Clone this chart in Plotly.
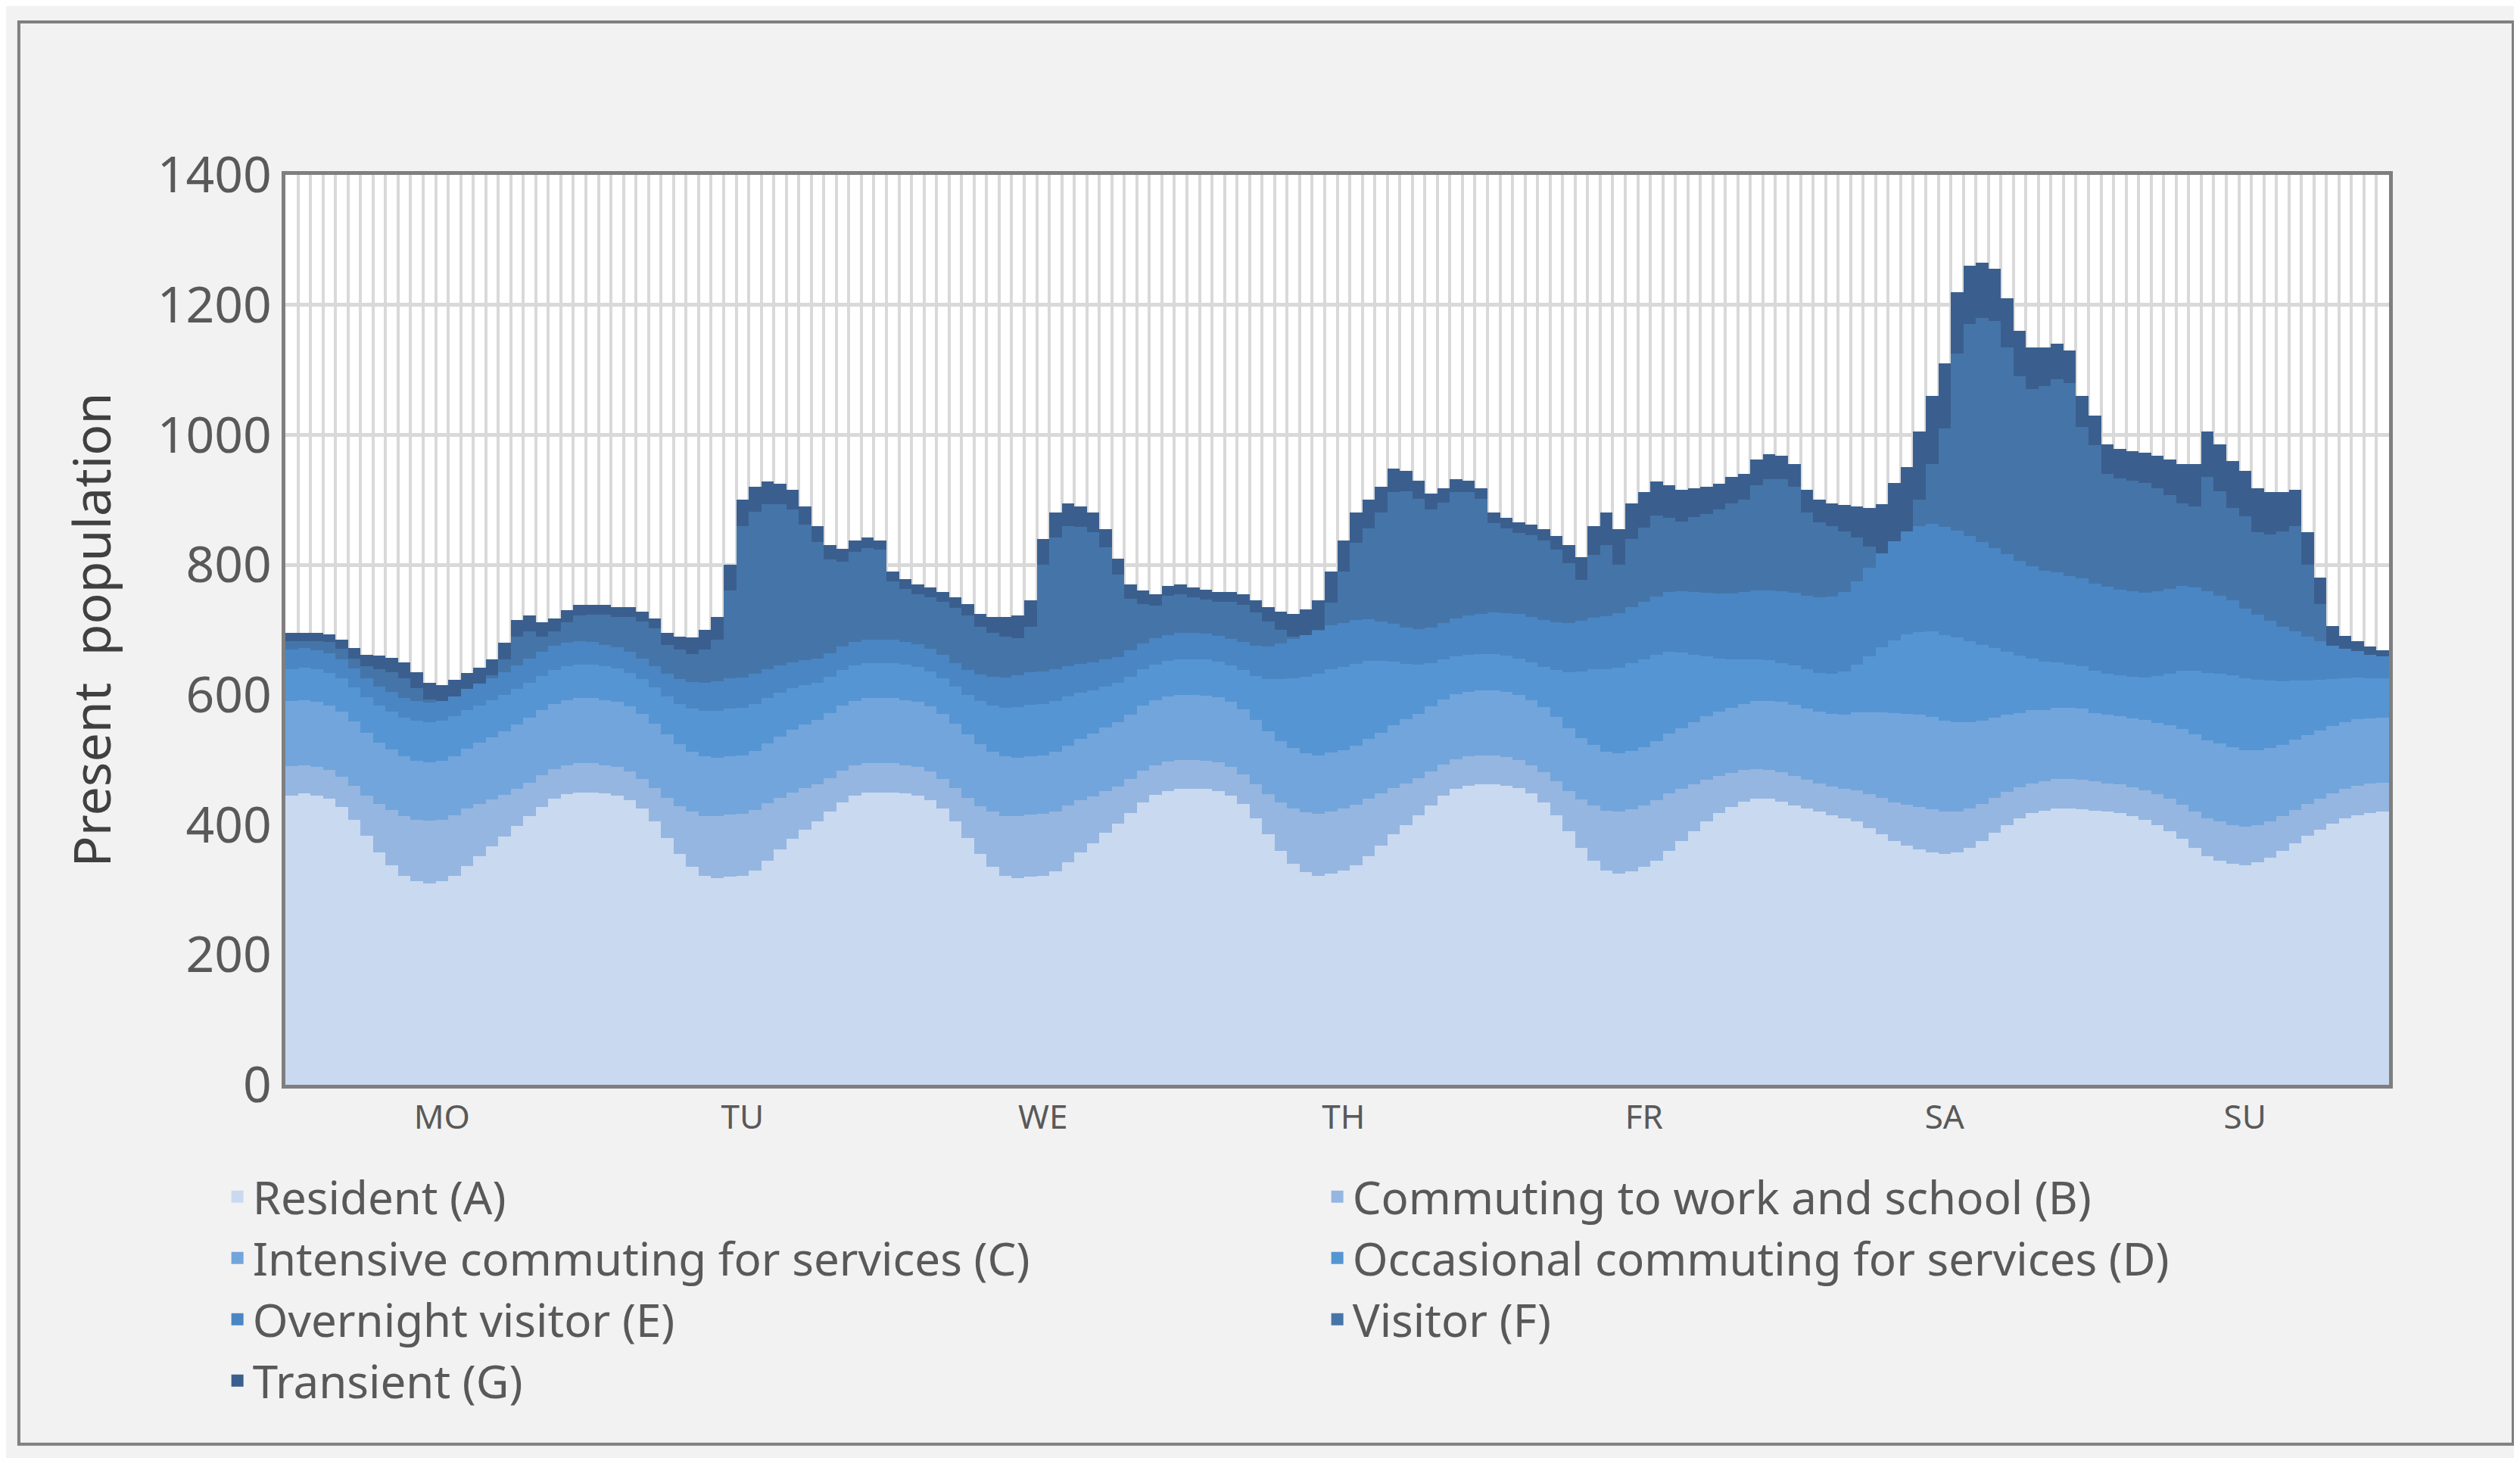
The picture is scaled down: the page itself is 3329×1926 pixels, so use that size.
import plotly.graph_objects as go

hours = list(range(168))
day_labels = ["MO", "TU", "WE", "TH", "FR", "SA", "SU"]
day_ticks = [12, 36, 60, 84, 108, 132, 156]

resident = [
    445,448,445,440,428,408,383,358,338,322,313,310,313,322,337,352,367,382,398,413,428,440,447,450,
    450,448,445,438,425,405,380,355,335,322,318,320,322,330,345,362,378,392,405,420,435,445,450,450,
    450,448,445,438,425,405,380,355,335,322,318,320,322,328,342,358,372,388,402,418,435,446,452,455,
    455,455,452,445,432,410,385,360,340,327,322,325,330,338,352,368,385,400,415,430,445,455,460,462,
    462,460,456,448,435,415,390,365,345,330,325,328,335,345,360,375,390,405,418,428,436,440,440,436,
    430,425,420,415,410,405,395,385,375,368,362,358,355,358,365,375,388,400,410,418,422,425,425,424,
    422,420,418,414,408,400,390,378,365,352,345,340,338,342,350,360,372,383,393,402,410,415,418,420]

commuting_work = (
    [45,44,44,44,46,52,62,74,85,92,95,96,95,93,88,80,72,64,57,52,48,46,45,45] +
    [45,44,44,44,46,52,62,74,85,92,95,96,95,93,88,80,72,64,57,52,48,46,45,45] +
    [45,44,44,44,46,52,62,74,85,92,95,96,95,93,88,80,72,64,57,52,48,46,45,45] +
    [45,44,44,44,46,52,62,74,85,92,95,96,95,93,88,80,72,64,57,52,48,46,45,45] +
    [45,44,44,44,46,52,62,74,85,92,95,96,95,93,88,80,72,64,57,52,48,46,45,45] +
    [45,44,44,44,45,48,52,56,60,63,65,66,65,63,60,57,54,51,48,46,45,45,45,45] +
    [45,44,44,44,45,47,50,53,56,58,60,60,59,57,55,53,51,49,47,46,45,45,45,45])

intensive = (
    [100,100,100,100,100,99,97,95,93,91,90,90,90,91,92,94,96,98,99,100,100,100,100,100] +
    [100,100,100,100,100,99,97,95,93,91,90,90,90,91,92,94,96,98,99,100,100,100,100,100] +
    [100,100,100,100,100,99,97,95,93,91,90,90,90,91,92,94,96,98,99,100,100,100,100,100] +
    [100,100,100,100,100,99,97,95,93,91,90,90,90,91,92,94,96,98,99,100,100,100,100,100] +
    [100,100,100,100,100,99,97,95,93,91,90,90,90,91,92,94,96,98,99,100,102,104,106,108] +
    [110,110,110,112,115,120,126,132,137,140,142,142,140,137,133,128,123,118,114,112,110,110,110,110] +
    [105,105,105,106,108,110,113,116,118,120,120,120,118,116,113,110,108,106,105,104,103,102,101,100])

occasional = [
    50,50,50,50,51,52,54,56,58,60,62,62,62,61,60,58,57,56,55,54,53,52,52,52,
    52,52,52,52,53,55,58,62,66,70,72,73,73,72,70,67,64,61,58,56,55,54,54,54,
    54,54,54,54,55,57,61,66,71,75,78,79,79,78,75,71,67,63,60,58,56,55,55,55,
    55,55,55,56,60,68,80,95,108,118,125,128,128,126,120,110,98,86,75,67,61,58,57,56,
    56,56,56,58,62,72,86,102,116,126,132,135,135,132,126,116,104,92,82,74,68,64,62,60,
    60,60,60,62,66,74,86,100,112,122,128,132,132,130,125,117,107,97,88,80,74,70,67,65,
    65,64,63,64,66,72,80,90,98,104,108,110,110,108,104,98,91,84,78,72,68,65,62,60]

overnight = [
    30,30,30,30,30,30,30,30,30,30,30,30,30,31,32,33,34,35,36,37,37,37,36,35,
    34,33,32,32,32,33,35,38,41,44,46,47,47,46,44,42,40,38,37,36,36,36,36,36,
    36,35,35,35,35,36,38,41,44,47,49,50,50,49,47,45,43,41,40,40,40,40,40,40,
    40,40,40,41,43,46,50,55,60,64,67,68,68,67,64,61,58,56,55,55,56,58,60,62,
    64,66,68,70,72,74,76,78,80,82,84,86,88,90,92,94,96,98,100,102,104,106,108,110,
    112,114,116,118,122,128,136,145,152,158,162,165,166,165,162,158,154,150,146,142,140,138,136,135,
    134,133,132,131,130,130,130,130,128,125,120,115,108,100,92,84,76,68,60,52,45,40,36,34]

transient = [
    12,12,12,12,14,16,18,20,22,24,25,25,25,25,25,25,25,25,25,24,22,20,18,16,
    15,15,15,15,15,16,18,20,25,30,35,40,40,38,35,32,30,28,25,22,20,18,16,15,
    15,15,15,15,15,16,18,20,25,30,35,40,40,38,35,32,30,28,25,22,20,18,16,15,
    15,15,15,15,16,18,22,28,35,40,45,48,48,46,44,40,36,32,28,25,22,20,18,16,
    16,16,16,16,18,22,28,35,45,50,55,55,55,52,50,48,45,42,40,40,40,40,38,36,
    35,35,35,36,40,48,60,75,90,100,105,105,100,95,90,85,80,75,70,65,60,55,50,48,
    46,45,45,45,46,50,55,60,65,70,72,72,70,68,65,60,55,50,40,30,20,15,12,10]

# total present population (top of stack)
total = [
    695,695,695,693,685,672,662,660,657,650,635,618,615,622,632,642,655,680,715,722,712,718,730,738,
    738,738,735,735,728,718,695,690,688,700,720,800,900,920,928,925,915,890,860,830,825,838,842,838,
    790,778,770,765,758,750,740,725,720,720,722,745,840,880,895,890,880,855,810,770,760,755,768,770,
    765,762,758,758,755,745,735,728,725,728,745,790,838,880,900,920,948,945,930,910,918,932,930,918,
    880,872,865,862,855,845,830,812,860,880,855,895,912,928,922,915,918,920,925,935,940,962,970,968,
    955,915,900,895,892,890,888,888,888,945,1005,1060,1110,1220,1260,1265,1255,1210,1160,1135,1135,1140,1130,1060,
    1030,985,978,975,972,968,962,955,955,1005,985,960,945,918,912,912,915,850,780,680,668,658,662,665]

below = [resident[i] + commuting_work[i] + intensive[i] + occasional[i] + overnight[i] + transient[i]
         for i in hours]
visitor = [max(total[i] - below[i], 0) for i in hours]

series = [
    ("Resident (A)", resident, "#C9D9F0"),
    ("Commuting to work and school (B)", commuting_work, "#95B6E0"),
    ("Intensive commuting for services (C)", intensive, "#72A5DB"),
    ("Occasional commuting for services (D)", occasional, "#5595D3"),
    ("Overnight visitor (E)", overnight, "#4A86C4"),
    ("Visitor (F)", visitor, "#4575A8"),
    ("Transient (G)", transient, "#3A5F8E"),
]

fig = go.Figure()
for name, vals, col in series:
    fig.add_trace(go.Bar(x=hours, y=vals, name=name, showlegend=False,
                         marker=dict(color=col, line=dict(width=0))))
# legend entries with larger square swatches
for name, vals, col in series:
    fig.add_trace(go.Scatter(x=[None], y=[None], mode="markers", name=name,
                             marker=dict(symbol="square", size=40, color=col)))

font = "Noto Sans"
fig.update_layout(
    barmode="stack", bargap=0,
    width=3329, height=1926,
    paper_bgcolor="#F2F2F2", plot_bgcolor="white",
    margin=dict(l=369, r=181, t=223, b=501),
    font=dict(family=font, color="#595959"),
    legend=dict(orientation="h", x=-0.03, y=-0.085, xanchor="left", yanchor="top",
                entrywidth=1408, entrywidthmode="pixels", traceorder="normal",
                font=dict(size=60, color="#595959"), bgcolor="rgba(0,0,0,0)",
                itemwidth=30, tracegroupgap=0),
    showlegend=True,
)
fig.update_xaxes(
    range=[-0.5, 167.5], tickmode="array", tickvals=day_ticks, ticktext=day_labels,
    tickfont=dict(size=44, color="#595959"), showgrid=False, ticks="",
    minor=dict(dtick=1, tick0=-0.5, showgrid=True, gridcolor="#D9D9D9", gridwidth=4),
    showline=True, linecolor="#7F7F7F", linewidth=5, mirror=True, zeroline=False,
)
fig.update_yaxes(
    range=[0, 1400], dtick=200, tickfont=dict(size=66, color="#595959"),
    showgrid=True, gridcolor="#D9D9D9", gridwidth=5, ticks="", ticklen=0,
    showline=True, linecolor="#7F7F7F", linewidth=5, mirror=True, zeroline=False,
    title=dict(text="Present  population", font=dict(size=68, color="#404040"), standoff=40),
)
fig.add_shape(type="rect", xref="paper", yref="paper", x0=-0.1267, x1=1.059, y0=-0.395, y1=1.168,
              line=dict(color="#7F7F7F", width=4), fillcolor="rgba(0,0,0,0)", layer="below")
fig.write_html("out.html")
